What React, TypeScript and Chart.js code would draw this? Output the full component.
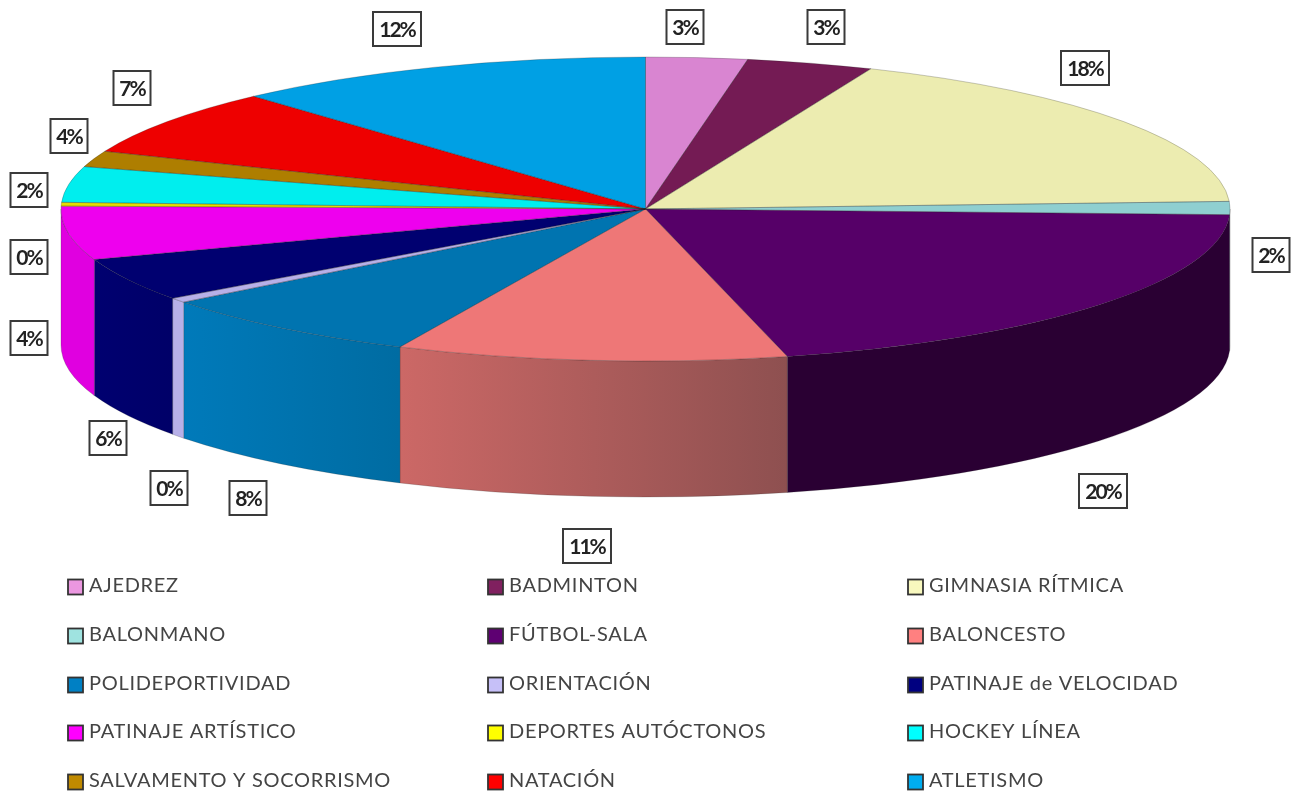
import React, { useEffect, useRef } from "react";
import { Chart, registerables } from "chart.js";

Chart.register(...registerables);

const sports = [
  "AJEDREZ", "BADMINTON", "GIMNASIA RÍTMICA",
  "BALONMANO", "FÚTBOL-SALA", "BALONCESTO",
  "POLIDEPORTIVIDAD", "ORIENTACIÓN", "PATINAJE de VELOCIDAD",
  "PATINAJE ARTÍSTICO", "DEPORTES AUTÓCTONOS", "HOCKEY LÍNEA",
  "SALVAMENTO Y SOCORRISMO", "NATACIÓN", "ATLETISMO",
];
const shares = [2.8, 3.5, 17.9, 1.4, 20.5, 10.8, 7.6, 0.5, 4.6, 5.7, 0.4, 3.8, 1.7, 7.1, 11.7];
const printedPercents = ["3%", "3%", "18%", "2%", "20%", "11%", "8%", "0%", "6%", "4%", "0%", "2%", "4%", "7%", "12%"];

const topColors = [
  "#D985D1", "#741B54", "#ECECB0", "#8FCFD0", "#560068", "#EE7777", "#0074B0", "#B7B0E8",
  "#000070", "#EE00EE", "#E6DC00", "#00EEEE", "#AE7E00", "#EE0000", "#00A0E4",
];
const wallLeft = [
  "#D985D1", "#741B54", "#ECECB0", "#8FCFD0", "#2A0033", "#CC6866", "#007ABA", "#B7B0E8",
  "#000070", "#E000E0", "#E6DC00", "#00EEEE", "#AE7E00", "#EE0000", "#00A0E4",
];
const wallRight = [
  "#D985D1", "#741B54", "#ECECB0", "#8FCFD0", "#2A0033", "#8E5050", "#006CA2", "#B7B0E8",
  "#000068", "#E000E0", "#E6DC00", "#00EEEE", "#AE7E00", "#EE0000", "#00A0E4",
];
const legendColors = [
  "#EB97E0", "#80205F", "#F8F8BE", "#9FE3E0", "#5E0072", "#FF8080", "#0080C4", "#C6C0F8",
  "#000080", "#FF00FF", "#FFFF00", "#00FFFF", "#C08A00", "#FF0000", "#00ADF0",
];

// Hand-placed label boxes of the source chart (centres), in slice order.
const labelCentres = [
  [685, 27], [826, 27], [1085, 68], [1271, 255], [1103, 491], [587, 546], [248, 498], [169, 488],
  [108, 438], [29, 338], [29, 257], [29, 190], [69, 136], [132, 88], [397, 29],
];

const PIE = { cx: 645.5, cy: 209, rx: 584.5, ry: 152, depth: 136 };
const LEGEND = { cols: [68, 488, 908], rows: [587, 636, 685, 733, 782], box: 15, gap: 6 };

const pie3d = {
  id: "pie3d",
  beforeDatasetDraw(chart: any) {
    const { ctx } = chart;
    const { cx, cy, rx, ry, depth } = PIE;
    const arcs = chart.getDatasetMeta(0).data;
    arcs.forEach((arc: any, i: number) => {
      const TAU = Math.PI * 2;
      for (const k of [-TAU, 0, TAU]) {
        const a = Math.max(arc.startAngle + k, 0);
        const b = Math.min(arc.endAngle + k, Math.PI);
        if (b <= a) continue;
        const x1 = cx + rx * Math.cos(a);
        const x2 = cx + rx * Math.cos(b);
        const g = ctx.createLinearGradient(x2, 0, x1, 0);
        g.addColorStop(0, wallLeft[i]);
        g.addColorStop(1, wallRight[i]);
        ctx.beginPath();
        ctx.ellipse(cx, cy, rx, ry, 0, a, b);
        ctx.ellipse(cx, cy + depth, rx, ry, 0, b, a, true);
        ctx.closePath();
        ctx.fillStyle = g;
        ctx.fill();
        ctx.strokeStyle = "rgba(40,40,40,0.35)";
        ctx.lineWidth = 0.6;
        ctx.stroke();
      }
    });
    const r = arcs[0].outerRadius;
    ctx.save();
    ctx.translate(cx, cy);
    ctx.scale(rx / r, ry / r);
    ctx.translate(-arcs[0].x, -arcs[0].y);
  },
  afterDatasetDraw(chart: any) {
    const { ctx } = chart;
    const { cx, cy, rx, ry } = PIE;
    ctx.restore();
    chart.getDatasetMeta(0).data.forEach((arc: any) => {
      ctx.beginPath();
      ctx.moveTo(cx, cy);
      ctx.ellipse(cx, cy, rx, ry, 0, arc.startAngle, arc.endAngle);
      ctx.closePath();
      ctx.strokeStyle = "rgba(30,30,30,0.4)";
      ctx.lineWidth = 0.6;
      ctx.stroke();
    });
  },
  afterDraw(chart: any) {
    const { ctx } = chart;
    ctx.save();
    // value labels
    ctx.font = '700 21px "Lato", sans-serif';
    ctx.textAlign = "center";
    ctx.textBaseline = "middle";
    (ctx as any).letterSpacing = "-2px";
    printedPercents.forEach((txt, i) => {
      const [x, y] = labelCentres[i];
      const w = Math.round(ctx.measureText(txt).width) + 12;
      const h = 34;
      ctx.fillStyle = "#fff";
      ctx.fillRect(x - w / 2, y - h / 2, w, h);
      ctx.strokeStyle = "#3a3a3a";
      ctx.lineWidth = 2;
      ctx.strokeRect(x - w / 2, y - h / 2, w, h);
      ctx.fillStyle = "#222";
      ctx.fillText(txt, x, y + 1);
    });
    // legend
    ctx.font = '400 20px "Lato", sans-serif';
    ctx.textAlign = "left";
    (ctx as any).letterSpacing = "0.7px";
    chart.data.labels.forEach((name: string, i: number) => {
      const x = LEGEND.cols[i % 3];
      const y = LEGEND.rows[Math.floor(i / 3)];
      ctx.fillStyle = legendColors[i];
      ctx.fillRect(x, y - LEGEND.box / 2, LEGEND.box, LEGEND.box);
      ctx.strokeStyle = "#333";
      ctx.lineWidth = 1.8;
      ctx.strokeRect(x, y - LEGEND.box / 2, LEGEND.box, LEGEND.box);
      ctx.fillStyle = "#444";
      ctx.fillText(name, x + LEGEND.box + LEGEND.gap, y - 1);
    });
    ctx.restore();
  },
};

export default function App() {
  const ref = useRef<HTMLCanvasElement>(null);
  useEffect(() => {
    const chart = new Chart(ref.current as HTMLCanvasElement, {
      type: "pie",
      data: {
        labels: sports,
        datasets: [{ data: shares, backgroundColor: topColors, borderWidth: 0, clip: false } as any],
      },
      options: {
        responsive: false,
        animation: false,
        layout: { padding: 0 },
        plugins: { legend: { display: false }, tooltip: { enabled: false } },
      },
      plugins: [pie3d],
    });
    return () => chart.destroy();
  }, []);
  return (
    <div style={{ position: "fixed", left: 0, top: 0, width: 1299, height: 794, background: "#fff" }}>
      <canvas ref={ref} width={1299} height={794} style={{ display: "block", filter: "blur(0.4px)" }} />
    </div>
  );
}
